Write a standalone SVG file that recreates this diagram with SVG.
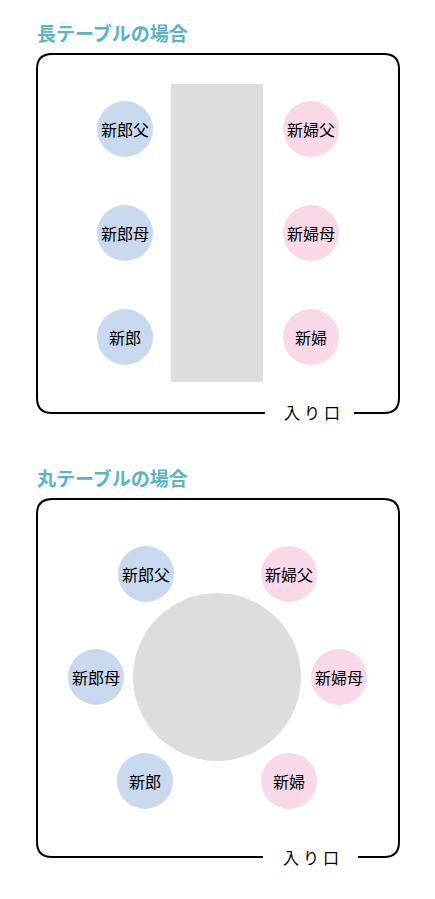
<svg xmlns="http://www.w3.org/2000/svg" width="435" height="899" viewBox="0 0 435 899">
<style>
.title{font-family:"Noto Sans CJK JP","Noto Sans",sans-serif;font-size:19px;font-weight:bold;fill:#5ab4c6}
.frame{fill:none;stroke:#000;stroke-width:2}
.table{fill:#dddddd}
.m{fill:#c9d9ef}
.f{fill:#f9d9e7}
.lbl{font-family:"Noto Sans CJK JP","Noto Sans",sans-serif;font-size:16px;fill:#000;text-anchor:middle;dominant-baseline:central}
.ent{font-family:"Noto Sans CJK JP","Noto Sans",sans-serif;font-size:16px;fill:#000;letter-spacing:4px}
</style>
<rect width="435" height="899" fill="#fff"/>
<text class="title" x="37" y="41">長テーブルの場合</text>
<g id="frame1">
<path class="frame" d="M265,413 H52 Q37,413 37,398 V69 Q37,54 52,54 H384 Q399,54 399,69 V398 Q399,413 384,413 H354"/>
<text class="ent" x="284" y="419">入り口</text>
</g>
<g id="longtable"><rect class="table" x="171" y="84" width="92" height="298"/></g>
<g id="l-groom-father"><circle class="m" cx="125" cy="129" r="28"/><text class="lbl" x="125" y="129">新郎父</text></g>
<g id="l-groom-mother"><circle class="m" cx="125" cy="233" r="28"/><text class="lbl" x="125" y="233">新郎母</text></g>
<g id="l-groom"><circle class="m" cx="125" cy="337" r="28"/><text class="lbl" x="125" y="337">新郎</text></g>
<g id="l-bride-father"><circle class="f" cx="311" cy="129" r="28"/><text class="lbl" x="311" y="129">新婦父</text></g>
<g id="l-bride-mother"><circle class="f" cx="311" cy="233" r="28"/><text class="lbl" x="311" y="233">新婦母</text></g>
<g id="l-bride"><circle class="f" cx="311" cy="337" r="28"/><text class="lbl" x="311" y="337">新婦</text></g>

<text class="title" x="37" y="486">丸テーブルの場合</text>
<g id="frame2">
<path class="frame" d="M263,857 H52 Q37,857 37,842 V514 Q37,499 52,499 H384 Q399,499 399,514 V842 Q399,857 384,857 H358"/>
<text class="ent" x="283" y="864">入り口</text>
</g>
<g id="roundtable"><circle class="table" cx="217" cy="677" r="84"/></g>
<g id="r-groom-father"><circle class="m" cx="146" cy="574" r="28"/><text class="lbl" x="146" y="574">新郎父</text></g>
<g id="r-groom-mother"><circle class="m" cx="96" cy="677" r="28"/><text class="lbl" x="96" y="677">新郎母</text></g>
<g id="r-groom"><circle class="m" cx="145" cy="781" r="28"/><text class="lbl" x="145" y="781">新郎</text></g>
<g id="r-bride-father"><circle class="f" cx="289" cy="574" r="28"/><text class="lbl" x="289" y="574">新婦父</text></g>
<g id="r-bride-mother"><circle class="f" cx="339" cy="677" r="28"/><text class="lbl" x="339" y="677">新婦母</text></g>
<g id="r-bride"><circle class="f" cx="289" cy="781" r="28"/><text class="lbl" x="289" y="781">新婦</text></g>
<g id="connectors"></g>
</svg>
